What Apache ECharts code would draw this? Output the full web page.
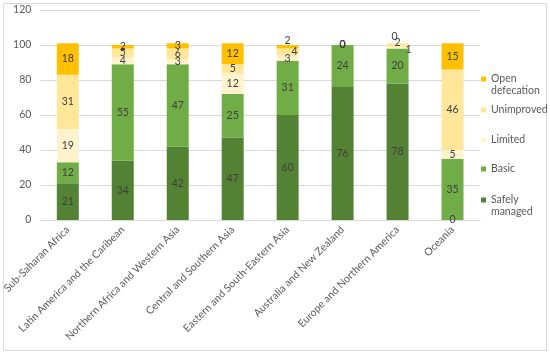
<!DOCTYPE html>
<html><head><meta charset="utf-8">
<script src="https://cdn.jsdelivr.net/npm/echarts@6/dist/echarts.min.js"></script>
<style>html,body{margin:0;padding:0;background:#fff}#c{width:550px;height:355px}</style>
</head><body><div id="c"></div>
<script>
const categories = ["Sub-Saharan Africa","Latin America and the Caribean","Northern Africa and Western Asia","Central and Southern Asia","Eastern and South-Eastern Asia","Australia and New Zealand","Europe and Northern America","Oceania"];
const safelyManaged = [21,34,42,47,60,76,78,0];
const basic = [12,55,47,25,31,24,20,35];
const limited = [19,4,3,12,3,0,1,5];
const unimproved = [31,5,6,5,4,0,2,46];
const openDefecation = [18,2,3,12,2,0,0,15];
const yTicks = [0,20,40,60,80,100,120];

const seriesDefs = [
  {name:"Safely managed", data:safelyManaged, color:"#548235", l1:"Safely", l2:"managed", cy:200},
  {name:"Basic", data:basic, color:"#70AD47", l1:"Basic", l2:"", cy:169},
  {name:"Limited", data:limited, color:"#FFF2CC", l1:"Limited", l2:"", cy:140},
  {name:"Unimproved", data:unimproved, color:"#FFE699", l1:"Unimproved", l2:"", cy:110},
  {name:"Open defecation", data:openDefecation, color:"#FFC000", l1:"Open", l2:"defecation", cy:79}
];
// label offsets for crowded small segments (style only)
const labelOffsets = {
  "Limited-6":[11,2], "Unimproved-6":[0,-2], "Open defecation-6":[-3,-7],
  "Unimproved-4":[7,0], "Open defecation-4":[0,-6]
};
const FONT = "Lato, 'Open Sans', sans-serif";
const LFS = 10.5;
const graphics = [{type:'rect', shape:{x:3.5,y:3.5,width:543,height:347}, style:{fill:'none', stroke:'#D9D9D9', lineWidth:1}, z:-1}];
seriesDefs.forEach(s=>{
  if (s.l2) graphics.push({type:'text', left:491, top:s.cy+6.5, style:{text:s.l2, fill:'#595959', font:LFS+'px '+FONT}});
});
const chart = echarts.init(document.getElementById('c'), null, {renderer:'canvas'});
chart.setOption({
  animation:false,
  textStyle:{fontFamily:FONT},
  graphic:graphics,
  grid:{left:36, right:70, top:10, bottom:135},
  legend: seriesDefs.map(s=>({
    data:[s.name], orient:'vertical', left:481, top:s.cy-6, padding:0,
    itemWidth:5, itemHeight:5, icon:'rect', itemGap:0,
    formatter:()=>s.l1,
    textStyle:{fontSize:LFS, color:'#595959', fontFamily:FONT, lineHeight:12}
  })),
  xAxis:{type:'category', data:categories,
    axisLine:{lineStyle:{color:'#D9D9D9'}}, axisTick:{show:false},
    axisLabel:{rotate:45, interval:0, fontSize:10.5, color:'#595959', margin:8}},
  yAxis:{type:'value', min:0, max:120, interval:20,
    axisLabel:{fontSize:10.5, color:'#595959', margin:9, formatter:v=>yTicks.includes(v)?String(v):''},
    splitLine:{lineStyle:{color:'#D9D9D9'}}, axisLine:{show:false}, axisTick:{show:false}},
  series: seriesDefs.map(s=>({
    name:s.name, type:'bar', stack:'total', barWidth:'40%',
    itemStyle:{color:s.color},
    data:s.data.map((v,i)=>{
      const off = labelOffsets[s.name+'-'+i];
      return off ? {value:v, label:{offset:off}} : v;
    }),
    label:{show:true, position:'inside', fontSize:10.5, color:'#404040', fontFamily:FONT}
  }))
});
</script></body></html>
